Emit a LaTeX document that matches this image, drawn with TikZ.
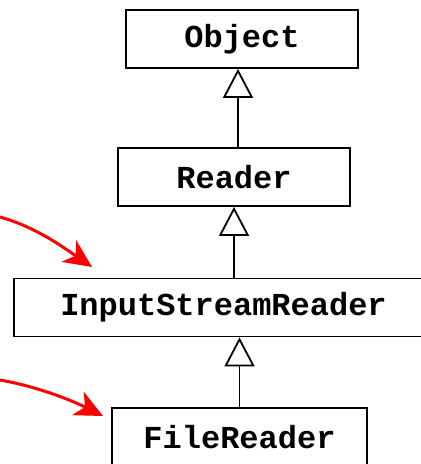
\documentclass[tikz,border=0pt]{standalone}
\usepackage{fontspec}
\setmonofont{Liberation Mono}
\usetikzlibrary{arrows.meta}

\begin{document}
\begin{tikzpicture}[x=0.5pt, y=-0.5pt,
  cls/.style={draw, line width=0.9pt, fill=white, inner sep=0pt,
    minimum height=29pt, font=\fontsize{16}{19}\selectfont\ttfamily\bfseries},
  inherit/.style={line width=0.9pt, -{Triangle[open, length=14.5pt, width=15pt, fill=white]}},
  note/.style={red, line width=1.5pt, -{Stealth[length=14pt, width=13pt, inset=4pt]}}]

\useasboundingbox (0,0) rectangle (421,464);
\clip (0,0) rectangle (421,464);

% ======================
% Classes
% ======================
\node[cls, minimum width=116pt] (object) at (242,39) {Object};
\node[cls, minimum width=116pt] (reader) at (234,177) {Reader};
\node[cls, minimum width=209.5pt] (isr) at (223.5,307.5) {InputStreamReader};
\node[cls, minimum width=127.5pt] (filereader) at (239.5,437) {FileReader};

% ======================
% Inheritance
% ======================
\draw[inherit] ([xshift=2pt]reader.north) -- ([xshift=-2pt]object.south);
\draw[inherit] (isr.north -| reader.south) -- (reader.south);
\draw[inherit] (filereader.north) -- (filereader.north |- isr.south);

% ======================
% Pointers
% ======================
\coordinate (isrfrom) at (0,217);
\coordinate (isrto) at (92,267);
\coordinate (frfrom) at (0,380);
\coordinate (frto) at (103,416);

\draw[note] (isrfrom) .. controls (35,227) and (60,245) .. (isrto);
\draw[note] (frfrom) .. controls (40,387) and (75,402) .. (frto);

\end{tikzpicture}
\end{document}
